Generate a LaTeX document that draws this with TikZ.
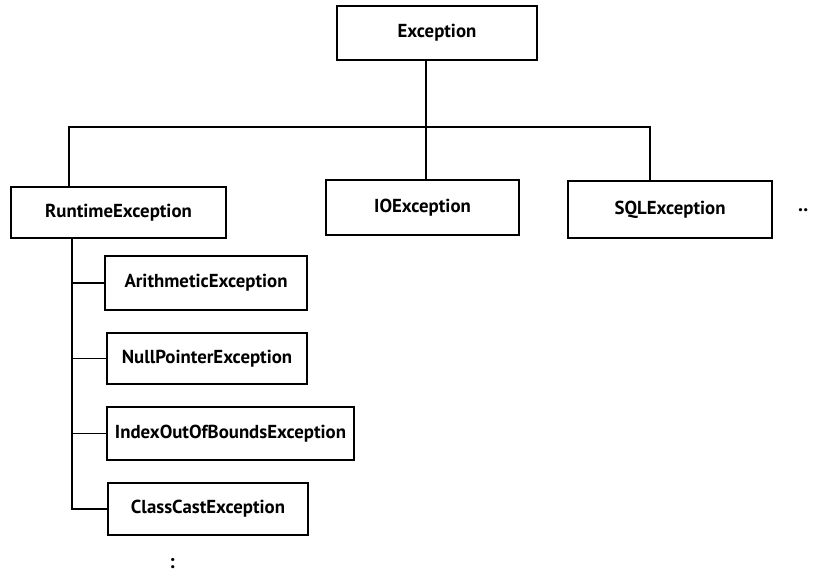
\documentclass[tikz,border=0pt]{standalone}
\usepackage{fontspec}
\setmainfont{PT Sans}
\usepackage{tikz}
\usetikzlibrary{calc,positioning}

\tikzset{
  exBox/.style={draw, line width=1.4pt, inner sep=0pt, font=\fontsize{18.8}{20}\selectfont\bfseries},
  exLine/.style={line width=1.4pt}
}

\begin{document}
\begin{tikzpicture}[x=1pt,y=-1pt]

      \useasboundingbox (0,0) rectangle (813,575);

      % draw the top level boxes
      \node[exBox, minimum width=200, minimum height=54] (exc) at (437,33) {Exception};
      \node[exBox, minimum width=215, minimum height=51] (rte) at (118.5,212.5) {RuntimeException};
      \node[exBox, minimum width=193, minimum height=55] (ioe) at (422.5,207.5) {IOException};
      \node[exBox, minimum width=204, minimum height=57] (sqle) at (670,209.5) {SQLException};
      \node[font=\fontsize{20}{22}\selectfont\bfseries, anchor=west, inner sep=0pt] (more) at (798,210) {..};

      % draw the runtime subclasses
      \node[exBox, minimum width=202, minimum height=54] (ari) at (206,283) {ArithmeticException};
      \node[exBox, minimum width=200, minimum height=51] (npe) at (207,358.5) {NullPointerException};
      \node[exBox, minimum width=247, minimum height=53] (ioob) at (230.5,433.5) {IndexOutOfBoundsException};
      \node[exBox, minimum width=200, minimum height=52] (cce) at (208,509) {ClassCastException};
      \node[font=\fontsize{20}{22}\selectfont\bfseries, inner sep=0pt] (dots) at (172,564) {:};

      % draw the bus
      \coordinate (bus) at (426,127);
      \coordinate (busL) at (69,127);
      \coordinate (busR) at (650,127);
      \coordinate (trunk) at (72,0);
      \draw[exLine] (exc.south -| bus) -- (ioe.north -| bus);
      \draw[exLine] (rte.north -| busL) |- (busR) -- (sqle.north -| busR);

      % draw the trunk and the branches
      \draw[exLine] (rte.south -| trunk) |- (cce.west);
      \foreach \n in {ari,npe,ioob}
      \draw[exLine] (\n.west -| trunk) -- (\n.west);

\end{tikzpicture}
\end{document}
